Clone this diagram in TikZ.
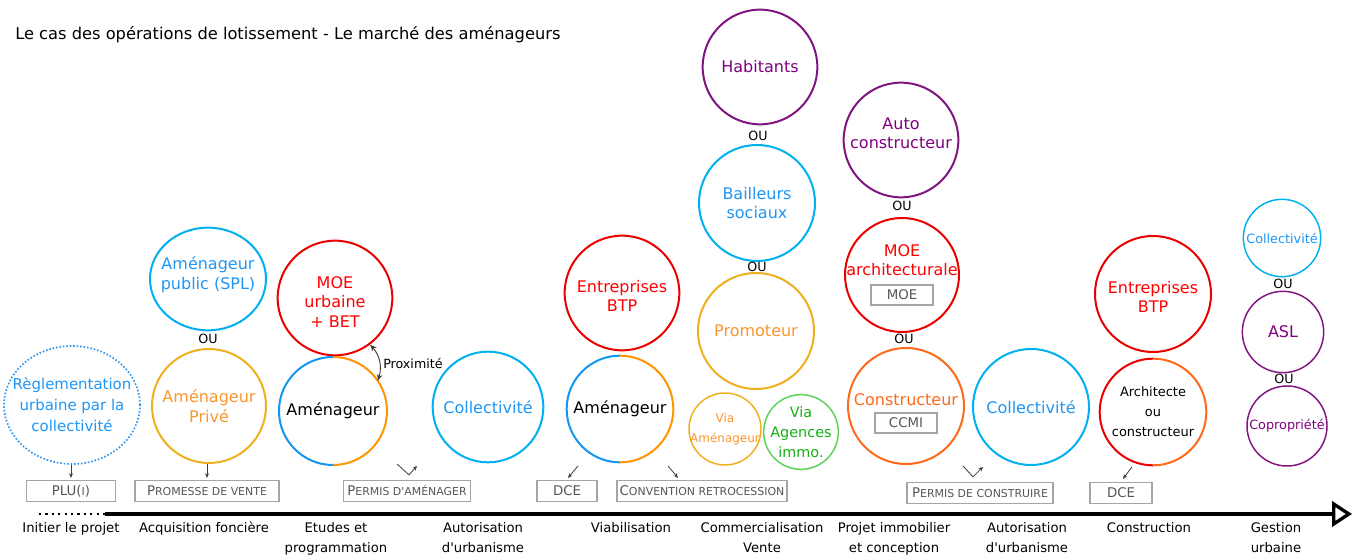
\documentclass[tikz,border=0pt]{standalone}
\usepackage{fontspec}
\setmainfont{DejaVu Sans}[Ligatures=TeXOff]
\usetikzlibrary{arrows.meta, shapes.geometric}
\definecolor{SkyLine}{RGB}{0, 176, 240}
\definecolor{SkyText}{RGB}{30, 150, 245}
\definecolor{DotBlue}{RGB}{50, 150, 240}
\definecolor{GoldLine}{RGB}{240, 176, 30}
\definecolor{OrangeText}{RGB}{250, 150, 45}
\definecolor{SplitBlue}{RGB}{20, 150, 240}
\definecolor{SplitOrange}{RGB}{255, 150, 0}
\definecolor{BuildOrange}{RGB}{255, 105, 25}
\definecolor{RedLine}{RGB}{235, 0, 0}
\definecolor{RedText}{RGB}{255, 0, 0}
\definecolor{PlumLine}{RGB}{128, 20, 128}
\definecolor{PlumText}{RGB}{128, 0, 128}
\definecolor{GreenLine}{RGB}{90, 210, 90}
\definecolor{GreenText}{RGB}{20, 175, 20}
\definecolor{BoxGray}{RGB}{165, 165, 165}
\definecolor{BoxText}{RGB}{85, 85, 85}
\definecolor{TipGray}{RGB}{60, 60, 60}
\newcommand{\fsc}[2]{#1{\fontsize{8.2}{9}\selectfont\MakeUppercase{#2}}}

\begin{document}
\begin{tikzpicture}[x=0.75pt, y=0.75pt,
    ring/.style={circle, draw, line width=1.5pt, inner sep=0pt},
    smallring/.style={circle, draw, line width=1.1pt, inner sep=0pt},
    halfring/.style={circle, inner sep=0pt, outer sep=0pt},
    every label/.append style={align=center, inner sep=0pt, font=\fontsize{12}{14.6}\selectfont},
    ou/.style={inner sep=0pt, font=\fontsize{9.5}{11}\selectfont},
    tagbox/.style={draw=BoxGray, line width=0.9pt, text=BoxText, minimum height=15.75pt, inner sep=0pt, font=\fontsize{10}{12}\selectfont},
    tick/.style={-{Stealth[length=3.5pt, width=3pt]}, TipGray, line width=0.6pt},
    stage/.style={anchor=north, align=center, inner sep=0pt, font=\fontsize{9.9}{15}\selectfont}]
    \useasboundingbox (0,0) rectangle (1360,560);

    % Title
    \node[anchor=west, inner sep=0pt, font=\fontsize{12.2}{14}\selectfont] (title) at (15,525) {Le cas des opérations de lotissement - Le marché des aménageurs};

    % Initier le projet
    \node[ellipse, draw=DotBlue, line width=1.3pt, dash pattern=on 1.2pt off 1.4pt, inner sep=0pt, minimum width=102pt, minimum height=88.5pt,
      label={[text=SkyText, font=\fontsize{11.2}{15.75}\selectfont]center:Règlementation\\urbaine par la\\collectivité}] (reg) at (72,155) {};

    % Acquisition fonciere
    \node[ring, ellipse, draw=SkyLine, minimum width=87pt, minimum height=77pt, label={[text=SkyText, yshift=3pt]center:Aménageur\\public (SPL)}] (pub) at (208,281) {};
    \node[ou] (ou1) at (208,221) {OU};
    \node[ring, draw=GoldLine, minimum size=85.5pt, label={[text=OrangeText]center:Aménageur\\Privé}] (priv) at (209,154) {};

    % Etudes et programmation
    \node[ring, draw=RedLine, minimum size=86pt, label={[text=RedText, yshift=-3pt]center:MOE\\urbaine\\+ BET}] (moe1) at (335,262) {};
    \node[halfring, minimum size=81pt, label={center:Aménageur}] (am1) at (333,149) {};
    \draw[SplitBlue, line width=1.5pt] (am1.north) arc[start angle=90, end angle=270, radius=40.5pt];
    \draw[SplitOrange, line width=1.5pt] (am1.south) arc[start angle=-90, end angle=90, radius=40.5pt];
    \draw[{Stealth[length=5pt, width=4pt]}-{Stealth[length=5pt, width=4pt]}, TipGray, line width=0.7pt] (moe1.-53) to[bend left=30] (am1.34);
    \node[anchor=west, inner sep=0pt, font=\fontsize{9.5}{11}\selectfont] (prox) at (383,196) {Proximité};

    % Autorisation d'urbanisme
    \node[ring, draw=SkyLine, minimum size=83pt, label={[text=SkyText]center:Collectivité}] (col1) at (488,153) {};

    % Viabilisation
    \node[ring, draw=RedLine, minimum size=86pt, label={[text=RedText, yshift=-2pt]center:Entreprises\\BTP}] (btp1) at (622,267) {};
    \node[halfring, minimum size=80pt, label={center:Aménageur}] (am2) at (620,151) {};
    \draw[SplitBlue, line width=1.5pt] (am2.north) arc[start angle=90, end angle=270, radius=40pt];
    \draw[SplitOrange, line width=1.5pt] (am2.south) arc[start angle=-90, end angle=90, radius=40pt];

    % Commercialisation
    \node[ring, draw=PlumLine, minimum size=86pt, label={[text=PlumText]center:Habitants}] (hab) at (760,493) {};
    \node[ou] (ou2) at (758,424) {OU};
    \node[ring, draw=SkyLine, minimum size=87pt, label={[text=SkyText]center:Bailleurs\\sociaux}] (bail) at (757,357) {};
    \node[ou] (ou3) at (757,293) {OU};
    \node[ring, draw=GoldLine, minimum size=87pt, label={[text=OrangeText]center:Promoteur}] (prom) at (756,229) {};
    \node[smallring, draw=GoldLine, minimum size=54pt, label={[text=OrangeText, font=\fontsize{9}{15}\selectfont]center:Via\\Aménageur}] (via1) at (725,131) {};
    \node[smallring, draw=GreenLine, minimum size=56pt, label={[text=GreenText, font=\fontsize{10.8}{15}\selectfont]center:Via\\Agences\\immo.}] (via2) at (801,128) {};

    % Projet immobilier
    \node[ring, draw=PlumLine, minimum size=86pt, label={[text=PlumText, yshift=5pt]center:Auto\\constructeur}] (auto) at (901,420) {};
    \node[ou] (ou4) at (902,354) {OU};
    \node[ring, draw=RedLine, minimum size=85.5pt, label={[text=RedText, yshift=11pt]center:MOE\\architecturale}] (moe2) at (902,285) {};
    \node[tagbox, minimum width=46.5pt, minimum height=15pt] (moebox) at (902,265) {MOE};
    \node[ou] (ou5) at (904,221) {OU};
    \node[ring, draw=BuildOrange, minimum size=87pt, label={[text=BuildOrange, yshift=4.5pt]center:Constructeur}] (cons) at (906,154) {};
    \node[tagbox, minimum width=46.5pt, minimum height=15pt] (ccmi) at (906,137) {CCMI};

    % Autorisation d'urbanisme
    \node[ring, draw=SkyLine, minimum size=87pt, label={[text=SkyText]center:Collectivité}] (col2) at (1031,153) {};

    % Construction
    \node[ring, draw=RedLine, minimum size=87pt, label={[text=RedText, yshift=-2pt]center:Entreprises\\BTP}] (btp2) at (1153,266) {};
    \node[halfring, minimum size=80pt, label={[font=\fontsize{9.7}{15}\selectfont]center:Architecte\\ou\\constructeur}] (arch) at (1153,148) {};
    \draw[RedLine, line width=1.5pt] (arch.north) arc[start angle=90, end angle=270, radius=40pt];
    \draw[BuildOrange, line width=1.5pt] (arch.south) arc[start angle=-90, end angle=90, radius=40pt];

    % Gestion urbaine
    \node[smallring, draw=SkyLine, minimum size=58pt, label={[text=SkyText, font=\fontsize{9.6}{11}\selectfont]center:Collectivité}] (col3) at (1282,322) {};
    \node[ou] (ou6) at (1283,276) {OU};
    \node[smallring, draw=PlumLine, minimum size=61pt, label={[text=PlumText]center:ASL}] (asl) at (1283,228) {};
    \node[ou] (ou7) at (1284,181) {OU};
    \node[smallring, draw=PlumLine, minimum size=60pt, label={[text=PlumText, font=\fontsize{9.6}{11}\selectfont]center:Copropriété}] (copro) at (1287,134) {};

    % Documents
    \node[tagbox, minimum width=67pt] (plu) at (71,69) {\fsc{PLU(}{i})};
    \node[tagbox, minimum width=108pt] (promesse) at (207,69) {\fsc{P}{romesse de vente}};
    \node[tagbox, minimum width=95pt] (pa) at (407,69) {\fsc{P}{ermis d'aménager}};
    \node[tagbox, minimum width=45pt] (dce1) at (567,69) {DCE};
    \node[tagbox, minimum width=127.5pt] (conv) at (702,69) {\fsc{C}{onvention retrocession}};
    \node[tagbox, minimum width=109.5pt] (pc) at (980,67) {\fsc{P}{ermis de construire}};
    \node[tagbox, minimum width=46.5pt] (dce2) at (1121,67) {DCE};

    \draw[tick, shorten >=1.5pt] (plu.north |- reg.south) -- (plu.north);
    \draw[tick, shorten >=1.5pt] (promesse.north |- priv.south) -- (promesse.north);
    \draw[tick] ([shift={(-10,16)}]pa.north) -- ([shift={(2,5)}]pa.north) -- ([shift={(10,14)}]pa.north);
    \draw[tick] ([shift={(11,14)}]dce1.north) -- ([shift={(1,2)}]dce1.north);
    \draw[tick] ([shift={(-34,14)}]conv.north) -- ([shift={(-24,2)}]conv.north);
    \draw[tick] ([shift={(-17,16)}]pc.north) -- ([shift={(-7,5)}]pc.north) -- ([shift={(3,15)}]pc.north);
    \draw[tick] ([shift={(11,15)}]dce2.north) -- ([shift={(2,3)}]dce2.north);

    % Timeline
    \coordinate (t0) at (39,46);
    \coordinate (t1) at (105,46);
    \coordinate (t2) at (1352,46);
    \draw[line width=2pt, dash pattern=on 1.6pt off 3.2pt] (t0) -- (t1);
    \draw[line width=2.5pt, -{Triangle[open, length=15pt, width=19pt]}] (t1) -- (t2);

    % Stages
    \node[stage] (s1) at (71,38) {Initier le projet};
    \node[stage] (s2) at (204,38) {Acquisition foncière};
    \node[stage] (s3) at (336,38) {Etudes et\\programmation};
    \node[stage] (s4) at (483,38) {Autorisation\\d'urbanisme};
    \node[stage] (s5) at (631,38) {Viabilisation};
    \node[stage] (s6) at (762,38) {Commercialisation\\Vente};
    \node[stage] (s7) at (894,38) {Projet immobilier\\et conception};
    \node[stage] (s8) at (1027,38) {Autorisation\\d'urbanisme};
    \node[stage] (s9) at (1149,38) {Construction};
    \node[stage] (s10) at (1276,38) {Gestion\\urbaine};
  \end{tikzpicture}
\end{document}
